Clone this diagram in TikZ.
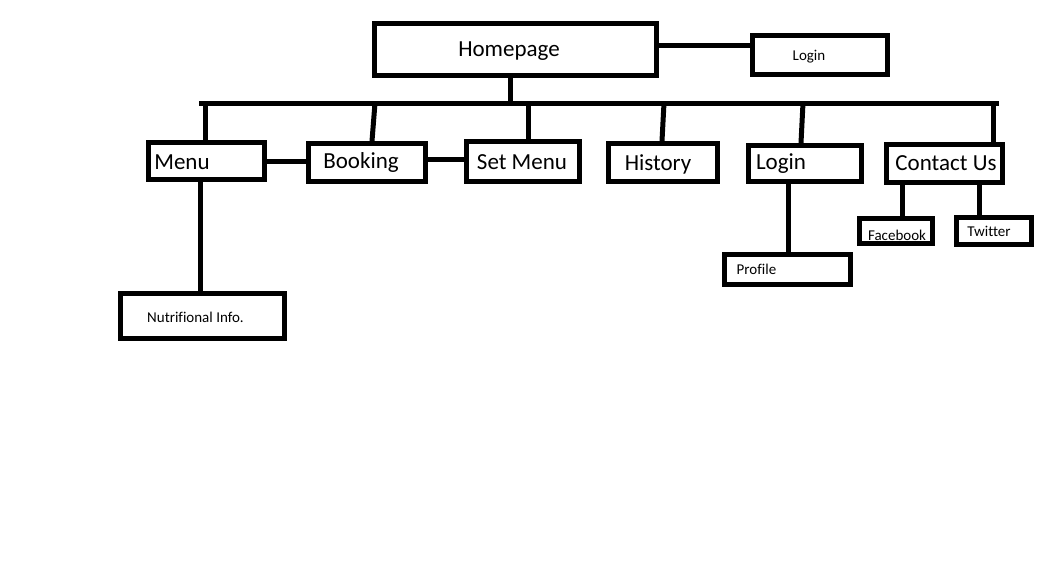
\documentclass[tikz,border=0pt]{standalone}
\usepackage{fontspec}
\setmainfont[Ligatures=NoCommon]{Carlito}
\begin{document}
\begin{tikzpicture}[x=1pt,y=-1pt,
  box/.style={draw=black, line width=5pt, fill=white, inner sep=0pt},
  big/.style={font=\fontsize{23}{27}\selectfont, inner sep=0pt},
  small/.style={font=\fontsize{15}{18}\selectfont, inner sep=0pt},
  wire/.style={line width=5pt, draw=black}]
\useasboundingbox[fill=white] (0,0) rectangle (1039,563);
% boxes
\node[box, minimum width=282pt, minimum height=52pt, label={[big, xshift=-6.5pt, yshift=-1.5pt]center:Homepage}] (home) at (515.5,49.5) {};
\node[box, minimum width=135pt, minimum height=39pt, label={[small, xshift=-11pt, yshift=-2pt]center:Login}] (logintop) at (820,55) {};
\node[box, minimum width=116pt, minimum height=37pt, label={[big, xshift=-24.5pt, yshift=-1pt]center:Menu}] (menu) at (206.5,161) {};
\node[box, minimum width=117pt, minimum height=38pt, label={[big, xshift=-6pt, yshift=0.5pt]center:Booking}] (booking) at (367,162.5) {};
\node[box, minimum width=113pt, minimum height=40pt, label={[big, xshift=-1pt, yshift=-0.5pt]center:Set Menu}] (setmenu) at (523,161.5) {};
\node[box, minimum width=109pt, minimum height=38pt, label={[big, xshift=-5pt, yshift=-2pt]center:History}] (history) at (663,162.5) {};
\node[box, minimum width=113pt, minimum height=36pt, label={[big, xshift=-24pt, yshift=-0.5pt]center:Login}] (login) at (805,163.5) {};
\node[box, minimum width=116pt, minimum height=38pt, label={[big, xshift=1.5pt]center:Contact Us}] (contact) at (944.5,163.5) {};
\node[box, minimum width=164pt, minimum height=45pt, label={[small, xshift=-7pt, yshift=-1pt]center:Nutrifional Info.}] (nutri) at (202.5,316) {};
\node[box, minimum width=126pt, minimum height=30pt, label={[small, xshift=-31pt]center:Profile}] (profile) at (787.5,269.5) {};
\node[box, minimum width=73pt, minimum height=25pt, label={[small, xshift=1pt, yshift=-4pt]center:Facebook}] (facebook) at (896,231) {};
\node[box, minimum width=75pt, minimum height=27pt, label={[small, xshift=-5pt]center:Twitter}] (twitter) at (994,231) {};
% bus
\coordinate (busL) at (201,103);
\coordinate (busR) at (996,103);
\draw[wire, line cap=rect] (busL) -- (busR);
% connectors
\draw[wire] (home.east |- 0,45) -- (logintop.west |- 0,45);
\draw[wire] (home.south -| 510,0) -- (510,103);
\draw[wire] (menu.north -| 205,0) -- (205,103);
\draw[wire] (booking.north -| 372,0) -- (375,103);
\draw[wire] (setmenu.north -| 528,0) -- (528,103);
\draw[wire] (history.north -| 662,0) -- (664,103);
\draw[wire] (login.north -| 801,0) -- (803,103);
\draw[wire] (contact.north -| 993,0) -- (993,103);
\draw[wire] (menu.east |- 0,161) -- (booking.west |- 0,161);
\draw[wire] (booking.east |- 0,159) -- (setmenu.west |- 0,159);
\draw[wire] (menu.south -| 200,0) -- (nutri.north -| 200,0);
\draw[wire] (login.south -| 788,0) -- (profile.north -| 788,0);
\draw[wire] (contact.south -| 902,0) -- (facebook.north -| 902,0);
\draw[wire] (contact.south -| 979,0) -- (twitter.north -| 979,0);
\end{tikzpicture}
\end{document}
